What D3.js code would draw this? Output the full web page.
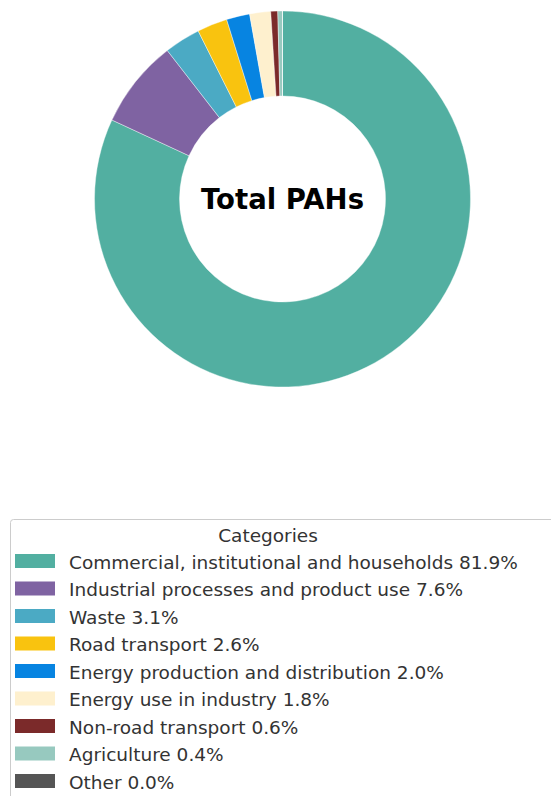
<!DOCTYPE html>
<html><head><meta charset="utf-8">
<script src="https://cdn.jsdelivr.net/npm/d3@7"></script>
<style>html,body{margin:0;padding:0;background:#fff;}svg{display:block;}</style>
</head><body>
<svg id="chart" width="551" height="796"></svg>
<script>
const categories = ["Commercial, institutional and households","Industrial processes and product use","Waste","Road transport","Energy production and distribution","Energy use in industry","Non-road transport","Agriculture","Other"];
const values = [81.9, 7.6, 3.1, 2.6, 2.0, 1.8, 0.6, 0.4, 0.0];
const colors = ["#52AFA1","#7F63A2","#4BAAC4","#F9C30F","#0784E1","#FEF0CE","#7B2A2A","#97C9BF","#555555"];
const chartTitle = "Total PAHs";
const legendTitle = "Categories";

const svg = d3.select("#chart");
const cx = 282.5, cy = 199, rOuter = 188, rInner = 103;
const pie = d3.pie().sort(null).value(d => d).startAngle(0).endAngle(2*Math.PI);
const arc = d3.arc().innerRadius(rInner).outerRadius(rOuter);
const color = d3.scaleOrdinal().domain(categories).range(colors);

const g = svg.append("g").attr("transform", `translate(${cx},${cy})`);
g.selectAll("path").data(pie(values)).join("path")
  .attr("d", arc)
  .attr("fill", (d,i) => color(categories[i]))
  .attr("stroke", "#fff").attr("stroke-width", 0.4);

g.append("text").text(chartTitle)
  .attr("text-anchor","middle").attr("y", 9.5)
  .attr("font-family","DejaVu Sans").attr("font-weight","bold")
  .attr("font-size", 27.5).attr("fill","#000");

// legend
const lg = svg.append("g");
lg.append("rect").attr("x", 10.5).attr("y", 519.5).attr("width", 560).attr("height", 300)
  .attr("rx", 3).attr("fill","#fff").attr("stroke","#cccccc").attr("stroke-width",1);
lg.append("text").text(legendTitle).attr("x", 268).attr("y", 542)
  .attr("text-anchor","middle").attr("font-family","DejaVu Sans").attr("font-size",18.5).attr("fill","#333");
const row = d3.scaleLinear().domain([0,1]).range([561, 588.5]);
const items = lg.selectAll("g.item").data(categories).join("g").attr("class","item")
  .attr("transform", (d,i) => `translate(0,${row(i)})`);
items.append("rect").attr("x",15).attr("y",-7).attr("width",40).attr("height",14)
  .attr("fill", d => color(d));
items.append("text").text((d,i) => `${d} ${values[i].toFixed(1)}%`)
  .attr("x", 69).attr("y", 7.5)
  .attr("font-family","DejaVu Sans").attr("font-size",18.5).attr("fill","#333");
</script>
</body></html>
